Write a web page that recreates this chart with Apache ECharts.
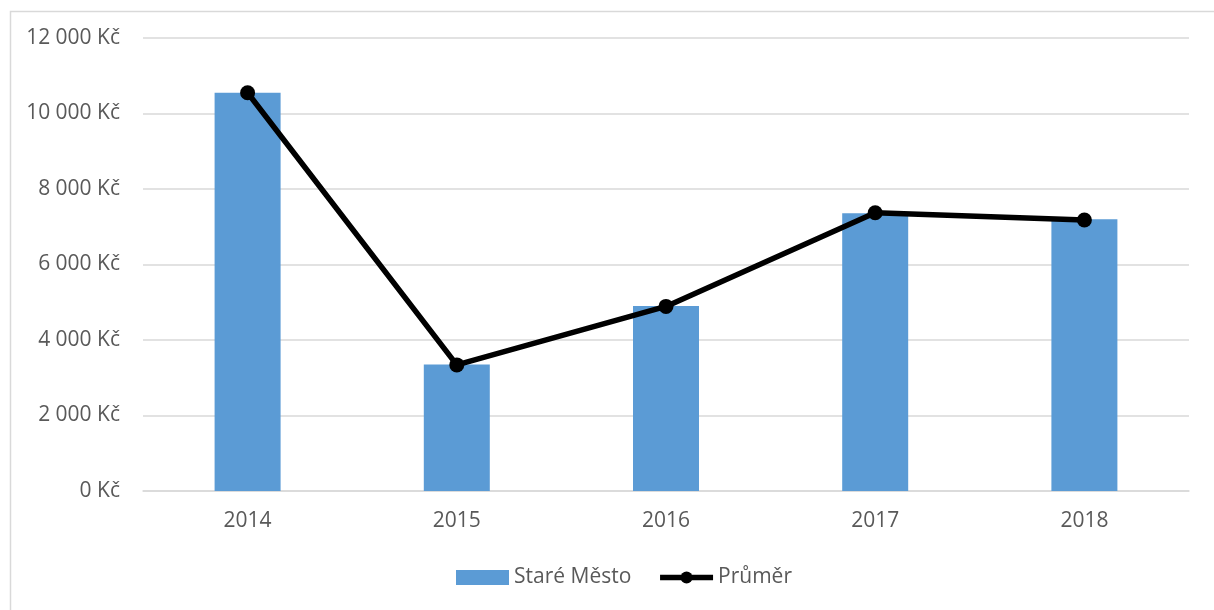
<!DOCTYPE html>
<html>
<head>
<meta charset="utf-8">
<script src="https://cdn.jsdelivr.net/npm/echarts@6/dist/echarts.min.js"></script>
<style>
  html, body { margin: 0; padding: 0; background: #fff; }
  #container { width: 1214px; height: 610px; }
</style>
</head>
<body>
<div id="container"></div>
<script>
// values
const years = ['2014', '2015', '2016', '2017', '2018']
const stareMesto = [10550, 3350, 4900, 7360, 7200]
const prumer = [10550, 3340, 4890, 7370, 7180]

const textColor = '#595959'
const font = '"Open Sans", "Noto Sans", sans-serif'

const myChart = echarts.init(document.getElementById('container'))

myChart.setOption({
  animation: false,
  textStyle: { fontFamily: font },
  graphic: [{
    type: 'rect',
    left: 8,
    top: 9,
    shape: { width: 1300, height: 700 },
    style: { fill: 'none', stroke: '#d9d9d9', lineWidth: 1.5 },
    silent: true
  }],
  grid: {
    top: 38,
    left: 143,
    right: 25,
    bottom: 119,
    containLabel: false
  },
  legend: {
    bottom: 17,
    left: 451,
    itemWidth: 53,
    itemHeight: 15,
    itemGap: 26,
    textStyle: { color: textColor, fontSize: 21, fontFamily: font },
    data: [
      { name: 'Staré Město', icon: 'rect', itemStyle: { color: '#5b9bd5' } },
      { name: 'Průměr', lineStyle: { width: 5.5, color: '#000' }, itemStyle: { color: '#000' } }
    ]
  },
  xAxis: {
    type: 'category',
    data: years,
    axisTick: { show: false },
    axisLine: { lineStyle: { color: '#d9d9d9', width: 1.5 } },
    axisLabel: { color: textColor, fontSize: 21, margin: 20 }
  },
  yAxis: {
    type: 'value',
    min: 0,
    max: 12000,
    interval: 2000,
    axisLine: { show: false },
    axisTick: { show: false },
    splitLine: { lineStyle: { color: '#d9d9d9', width: 1.5 } },
    axisLabel: {
      color: textColor,
      fontSize: 21,
      margin: 23,
      formatter: (v) => {
        const s = String(v).replace(/\B(?=(\d{3})+(?!\d))/g, ' ')
        return s + ' Kč'
      }
    }
  },
  series: [
    {
      name: 'Staré Město',
      type: 'bar',
      barWidth: 66,
      itemStyle: { color: '#5b9bd5' },
      data: stareMesto
    },
    {
      name: 'Průměr',
      type: 'line',
      symbol: 'circle',
      symbolSize: 15,
      lineStyle: { color: '#000', width: 5.5 },
      itemStyle: { color: '#000' },
      data: prumer
    }
  ]
})
</script>
</body>
</html>
